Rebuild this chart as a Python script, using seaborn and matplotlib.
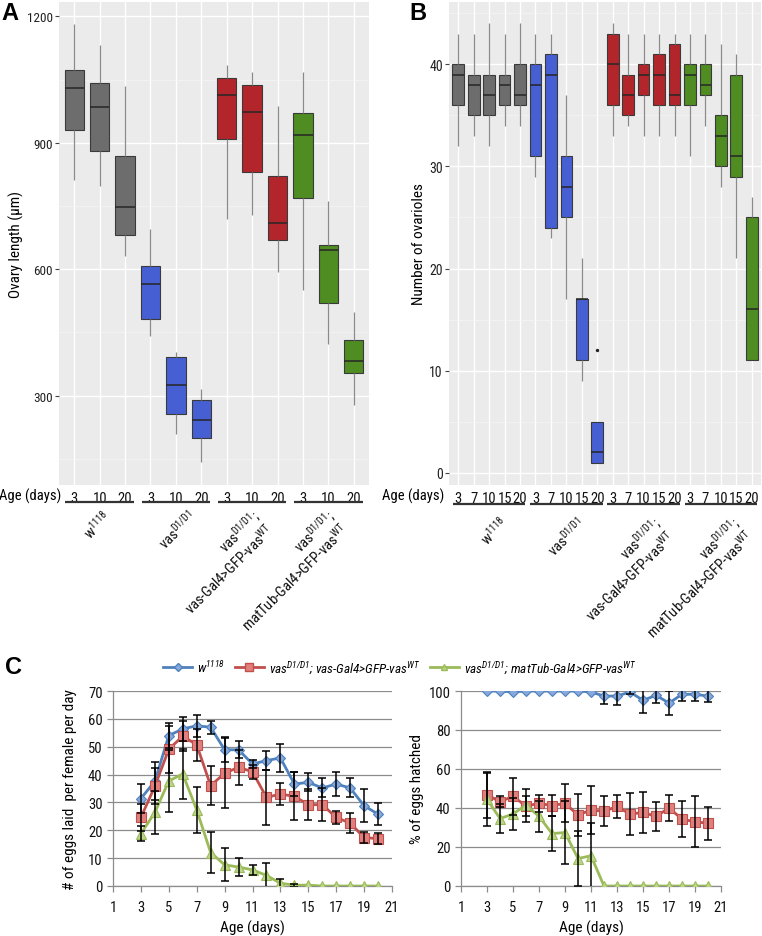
import numpy as np
import pandas as pd
import seaborn as sns
import matplotlib
matplotlib.use('Agg')
import matplotlib.pyplot as plt
from matplotlib import font_manager
from matplotlib.ticker import FixedLocator

# ---------------- data ----------------
# panel A: ovary length (um), five-number summary per box
a_ages = ['3', '10', '20']
a_low = [812, 797, 632, 442, 209, 142, 719, 729, 593, 551, 422, 278]
a_q1 = [930, 881, 681, 483, 256, 200, 910, 830, 669, 768, 521, 353]
a_med = [1030, 985, 747, 566, 326, 243, 1013, 973, 710, 918, 645, 382]
a_q3 = [1073, 1043, 869, 608, 391, 289, 1054, 1036, 820, 971, 658, 432]
a_high = [1182, 1132, 1035, 695, 403, 316, 1085, 1069, 988, 1069, 763, 498]

# panel B: number of ovarioles
b_ages = ['3', '7', '10', '15', '20']
b_low = [32, 33, 32, 34, 34, 29, 23, 17, 9, 1, 33, 34, 33, 33, 33, 31, 34, 28, 21, 11]
b_q1 = [36, 35, 35, 36, 36, 31, 24, 25, 11, 1, 36, 35, 37, 36, 36, 36, 37, 30, 29, 11]
b_med = [39, 38, 37, 38, 37, 38, 39, 28, 17, 2, 40, 37, 39, 39, 37, 39, 38, 33, 31, 16]
b_q3 = [40, 39, 39, 39, 40, 40, 41, 31, 17, 5, 43, 39, 40, 41, 42, 40, 40, 35, 39, 25]
b_high = [43, 43, 44, 43, 44, 43, 43, 37, 21, 5, 44, 43, 43, 43, 43, 43, 43, 42, 41, 27]
b_outlier_slot = 9
b_outlier_val = 12

groups = ['w1118', 'vas', 'vas_vasGal4', 'vas_matTub']
box_colors = ['#6d6d6d', '#4660d4', '#b2262b', '#4f8c21']
group_labels = [
    r'w$\mathregular{^{1118}}$',
    r'vas$\mathregular{^{D1/D1}}$',
    'vas$\\mathregular{^{D1/D1}}$;\nvas-Gal4>GFP-vas$\\mathregular{^{WT}}$',
    'vas$\\mathregular{^{D1/D1}}$;\nmatTub-Gal4>GFP-vas$\\mathregular{^{WT}}$',
]

# panel C: egg laying and hatching, days 3..20
days = list(range(3, 21))
w_eggs = [31.4, 37.6, 54.0, 56.4, 57.5, 57.0, 48.9, 48.9, 43.8, 45.0, 46.0, 36.6, 37.2, 35.2, 36.6, 35.2, 28.8, 25.8]
w_eggs_sd = [5.3, 6.8, 4.5, 4.2, 4.0, 2.3, 4.5, 3.0, 1.5, 3.3, 5.0, 4.2, 3.2, 3.4, 4.3, 3.4, 6.0, 3.9]
r_eggs = [24.6, 35.8, 49.1, 53.8, 50.7, 36.0, 40.5, 42.6, 41.0, 31.8, 33.0, 32.2, 29.2, 29.2, 24.6, 22.6, 17.4, 17.0]
r_eggs_sd = [4.8, 6.5, 8.5, 5.4, 5.8, 7.0, 12.5, 6.3, 2.6, 10.0, 3.8, 8.6, 5.5, 6.0, 2.3, 3.7, 2.0, 2.0]
g_eggs = [18.8, 26.4, 37.7, 40.2, 27.3, 12.0, 7.6, 6.8, 5.8, 3.8, 1.0, 0.3, 0.3, 0, 0, 0, 0, 0]
g_eggs_sd = [2.7, 7.8, 11.0, 9.0, 8.3, 7.3, 5.9, 3.2, 1.8, 4.6, 1.6, 0.5, 0, 0, 0, 0, 0, 0]

w_hatch = [100, 100, 99.5, 100, 100, 100, 100, 100, 99.5, 97.4, 97.4, 99.5, 95.2, 97.8, 93.8, 98.3, 98.3, 97.4]
w_hatch_sd = [0, 0, 0, 0, 0, 0, 0, 0, 0, 3.9, 4.4, 1.0, 6.5, 4.0, 6.0, 3.4, 3.4, 3.1]
r_hatch = [46.8, 43.2, 46.0, 41.0, 42.4, 41.2, 42.4, 36.4, 39.0, 38.3, 40.8, 36.9, 37.7, 35.7, 40.0, 34.3, 32.9, 32.2]
r_hatch_sd = [11.7, 2.8, 9.6, 5.0, 4.3, 5.5, 9.7, 11.0, 12.5, 7.7, 5.7, 11.0, 10.7, 7.3, 6.9, 9.3, 13.0, 8.5]
g_hatch = [44.5, 34.6, 36.9, 41.5, 35.7, 26.9, 27.4, 14.1, 15.5, 0, 0, 0, 0, 0, 0, 0, 0, 0]
g_hatch_sd = [13.5, 7.5, 8.2, 8.5, 8.0, 9.2, 16.3, 14.0, 17.0, 0, 0, 0, 0, 0, 0, 0, 0, 0]

legend_labels = [
    r'w$\mathregular{^{1118}}$',
    r'vas$\mathregular{^{D1/D1}}$; vas-Gal4>GFP-vas$\mathregular{^{WT}}$',
    r'vas$\mathregular{^{D1/D1}}$; matTub-Gal4>GFP-vas$\mathregular{^{WT}}$',
]

# ---------------- fonts: look for a narrow sans, like the original ----------------
flist = font_manager.fontManager.ttflist
pick = None
for want in ['Liberation Sans Narrow', 'Roboto Condensed', 'Open Sans Condensed',
             'Noto Sans Condensed', 'DejaVu Sans Condensed']:
    hit = [f for f in flist if f.name == want and f.style == 'normal']
    if hit:
        pick = (want, 'normal')
        break
if pick is None:
    for fam in ['Noto Sans', 'Open Sans', 'Roboto', 'DejaVu Sans']:
        hit = [f for f in flist if f.name == fam and f.style == 'normal'
               and f.stretch in ('condensed', 'semi-condensed')]
        if hit:
            pick = (fam, hit[0].stretch)
            break
narrow = pick is not None
base = pick[0] if narrow else 'Liberation Sans'
plt.rcParams['font.family'] = [base, 'DejaVu Sans']
if narrow:
    plt.rcParams['font.stretch'] = pick[1]
plt.rcParams['mathtext.fontset'] = 'custom'
plt.rcParams['mathtext.rm'] = base
plt.rcParams['mathtext.it'] = base + ':italic'
fs = 1.0 if narrow else 0.86

fig = plt.figure(figsize=(7.62, 9.37), dpi=100)
W, H = 762.0, 937.0


def px_axes(l, t, r, b):
    return fig.add_axes([l / W, 1 - b / H, (r - l) / W, (b - t) / H])


def long_table(ages, lo, q1, md, q3, hi):
    rows = []
    n = len(ages)
    for i in range(len(lo)):
        slot = f'{groups[i // n]} {ages[i % n]}'
        for v in (lo[i], q1[i], md[i], q3[i], hi[i]):
            rows.append({'slot': slot, 'group': groups[i // n], 'value': v})
    return pd.DataFrame(rows)


def gg_box(ax, df, ages, ylim, major, minor, ylabel, tick_fs, xfs, line_y, lab_y, lab_dx):
    slots = list(dict.fromkeys(df['slot']))
    sns.boxplot(data=df, x='slot', y='value', hue='group', order=slots,
                hue_order=groups, palette=box_colors, saturation=1,
                dodge=False, width=0.76, whis=(0, 100), linecolor='#3a3a3a',
                linewidth=0.8, showcaps=False, legend=False, ax=ax,
                whiskerprops=dict(color='#8a8a8a', linewidth=0.9),
                medianprops=dict(color='#262626', linewidth=1.1))
    ax.set_facecolor('#ebebeb')
    for s in ax.spines.values():
        s.set_visible(False)
    n = len(slots)
    ax.set_xlim(-0.6, n - 0.4)
    ax.set_ylim(*ylim)
    ax.set_yticks(major)
    ax.yaxis.set_minor_locator(FixedLocator(minor))
    ax.set_xticks(range(n))
    ax.set_xticklabels(ages * 4)
    ax.grid(which='major', color='white', linewidth=1.0)
    ax.grid(which='minor', axis='y', color='#f6f6f6', linewidth=0.5)
    ax.set_axisbelow(True)
    ax.tick_params(axis='x', length=0, pad=4, labelsize=xfs, colors='#111111')
    ax.tick_params(axis='y', length=3, width=0.8, color='#444444',
                   labelsize=tick_fs, labelcolor='#222222', pad=1.5)
    ax.tick_params(which='minor', length=0)
    ax.set_xlabel('')
    ax.set_ylabel(ylabel, fontsize=11 * fs, labelpad=2)
    # group underlines and labels
    k = len(ages)
    half = (k - 1) / 2
    tr = ax.get_xaxis_transform()
    for g in range(4):
        c = g * k + half
        ax.plot([c - half - 0.35, c + half + 0.35], [line_y, line_y], color='#333333',
                lw=1.6, transform=tr, clip_on=False, solid_capstyle='butt')
        ax.text(c + lab_dx[g], lab_y, group_labels[g], transform=tr, rotation=45,
                rotation_mode='anchor', ha='right', va='top', multialignment='right',
                fontsize=10.5 * fs, color='#111111', linespacing=1.05)


# ---- panel A
axA = px_axes(59, 3, 369, 486)
gg_box(axA, long_table(a_ages, a_low, a_q1, a_med, a_q3, a_high), a_ages,
       (88, 1234), [300, 600, 900, 1200], [150, 450, 750, 1050],
       'Ovary length (\u03bcm)', 9.5 * fs, 10.5 * fs,
       -0.035, -0.044, [0.1, 0.43, -0.05, -0.1])

# ---- panel B
axB = px_axes(449, 3, 761, 486)
gg_box(axB, long_table(b_ages, b_low, b_q1, b_med, b_q3, b_high), b_ages,
       (-1.2, 46.1), [0, 10, 20, 30, 40], [5, 15, 25, 35, 45],
       'Number of ovarioles', 10 * fs, (10.5 if narrow else 8.0),
       -0.039, -0.058, [0.65, 0.65, 0.55, 0.65])
axB.scatter([b_outlier_slot], [b_outlier_val], s=2, color='#222222', zorder=5)

fig.text(61 / W, 1 - 496 / H, 'Age (days)', ha='right', va='center', fontsize=10.5 * fs)
fig.text(444 / W, 1 - 496 / H, 'Age (days)', ha='right', va='center', fontsize=10.5 * fs)

fig.text(10 / W, 1 - 13 / H, 'A', fontsize=17, fontweight='bold', ha='center', va='center',
         family='Liberation Sans', stretch='normal')
fig.text(418 / W, 1 - 13 / H, 'B', fontsize=17, fontweight='bold', ha='center', va='center',
         family='Liberation Sans', stretch='normal')
fig.text(13 / W, 1 - 667 / H, 'C', fontsize=17, fontweight='bold', ha='center', va='center',
         family='Liberation Sans', stretch='normal')

# ---- panel C
series = [
    ('#4f81bd', '#86a8dd', 'D', 5.5),
    ('#c0504d', '#e27f7c', 's', 7),
    ('#9bbb59', '#bdd68a', '^', 6.5),
]
axL = px_axes(113, 692, 392, 887)
axR = px_axes(461, 692, 721, 887)

eggs = [(w_eggs, w_eggs_sd), (r_eggs, r_eggs_sd), (g_eggs, g_eggs_sd)]
hatch = [(w_hatch, w_hatch_sd), (r_hatch, r_hatch_sd), (g_hatch, g_hatch_sd)]

for ax, sets, ymax, step in ((axL, eggs, 70, 10), (axR, hatch, 100, 20)):
    for (vals, sd), (lc, fc, mk, ms) in zip(sets, series):
        df = pd.DataFrame({'day': days, 'v': vals})
        sns.lineplot(data=df, x='day', y='v', ax=ax, color=lc, lw=2.0,
                     marker=mk, markersize=ms, markerfacecolor=fc,
                     markeredgecolor=lc, markeredgewidth=0.8, zorder=3)
        sd = np.asarray(sd)
        m = sd > 0
        ax.errorbar(np.asarray(days)[m], np.asarray(vals)[m], yerr=sd[m], fmt='none',
                    ecolor='black', elinewidth=1.1, capsize=3, capthick=1.1, zorder=4)
    ax.set_xlim(1, 21)
    ax.set_ylim(0, ymax)
    ax.set_xticks(range(1, 22, 2))
    ax.set_yticks(range(0, ymax + 1, step))
    ax.grid(axis='y', color='#8c8c8c', linewidth=0.9)
    ax.grid(axis='x', visible=False)
    ax.set_axisbelow(True)
    ax.set_facecolor('white')
    for s in ('top', 'right'):
        ax.spines[s].set_visible(False)
    for s in ('left', 'bottom'):
        ax.spines[s].set_color('#8c8c8c')
        ax.spines[s].set_linewidth(0.9)
    ax.tick_params(length=4, width=0.9, color='#8c8c8c', labelsize=10.5 * fs,
                   labelcolor='#111111')
    ax.tick_params(axis='x', pad=6)
    ax.set_xlabel('Age (days)', fontsize=11 * fs, labelpad=4)

axL.set_ylabel('# of eggs laid  per female per day', fontsize=11 * fs, labelpad=8)
axR.set_ylabel('% of eggs hatched', fontsize=11 * fs, labelpad=3)

handles = []
for (lc, fc, mk, ms) in series:
    handles.append(plt.Line2D([], [], color=lc, lw=2.0, marker=mk, markersize=ms - 1.5,
                              markerfacecolor=fc, markeredgecolor=lc))
fig.legend(handles, legend_labels, loc='center', bbox_to_anchor=(400 / W, 1 - 668 / H),
           ncol=3, frameon=False, prop={'style': 'italic', 'size': 9.5 * fs},
           handlelength=2.2, columnspacing=0.7, handletextpad=0.4)

fig.savefig('out.png', dpi=100)
